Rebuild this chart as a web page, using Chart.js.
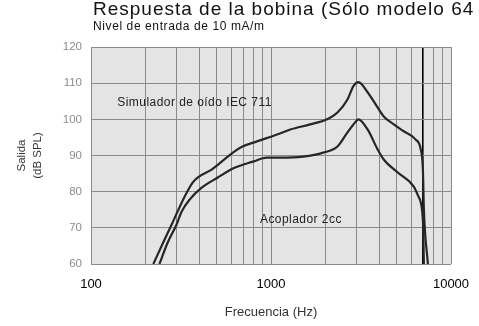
<!DOCTYPE html>
<html>
<head>
<meta charset="utf-8">
<script src="https://cdn.jsdelivr.net/npm/chart.js@4/dist/chart.umd.min.js"></script>
<style>
  html, body { margin: 0; padding: 0; background: #fff; }
  #wrap { width: 479px; height: 326px; position: relative; }
</style>
</head>
<body>
<div id="wrap"><canvas id="grafica"></canvas></div>
<script>
// curva superior: simulador de oido IEC 711
const simFreq = [222, 256, 280, 302, 331, 367, 391, 468, 614, 690, 836, 1080, 1280, 1650, 2050, 2340, 2660, 2870, 3060, 3440, 3910, 4230, 4810, 5460, 6370, 6790, 6980, 7070, 7440];
const simDb   = [60, 66.7, 70.8, 74.4, 78.6, 82.5, 83.9, 86.1, 90.8, 92.4, 93.9, 95.8, 97.2, 98.6, 100, 101.9, 105.5, 109.2, 110.3, 107.5, 103.3, 100.8, 98.6, 96.7, 94.4, 91.7, 86.1, 75, 60];
// curva inferior: acoplador 2cc
const acoFreq = [240, 266, 298, 318, 353, 412, 506, 614, 793, 950, 1120, 1510, 1950, 2340, 2660, 2940, 3060, 3440, 3910, 4230, 5060, 6210, 6600, 6980, 7070];
const acoDb   = [60, 65.8, 70.8, 74.4, 77.8, 81.1, 83.9, 86.4, 88.3, 89.4, 89.4, 89.7, 90.8, 92.5, 96.4, 99.2, 100, 97.2, 91.7, 88.9, 85.3, 81.4, 78.6, 72.2, 60];

const gridFreq = [100, 200, 300, 400, 500, 600, 700, 800, 900, 1000, 2000, 3000, 4000, 5000, 6000, 7000, 8000, 9000, 10000];
const xLabels = [100, 1000, 10000];
const yTicks = [60, 70, 80, 90, 100, 110, 120];

const titulo = 'Respuesta de la bobina (Sólo modelo 64';
const subtitulo = 'Nivel de entrada de 10 mA/m';
const etiquetas = [
  { text: 'Simulador de oído IEC 711', f: 140, db: 104.7 },
  { text: 'Acoplador 2cc', f: 868, db: 72.2 }
];

const FONT = '"Liberation Sans", Arial, sans-serif';

function puntos(fs, dbs) {
  return fs.map((f, i) => ({ x: f, y: dbs[i] }));
}

const fondo = {
  id: 'fondo',
  beforeDraw(chart) {
    const { ctx, chartArea: a } = chart;
    ctx.save();
    ctx.fillStyle = '#e4e4e4';
    ctx.fillRect(a.left, a.top, a.right - a.left, a.bottom - a.top);
    ctx.restore();
  }
};

const textos = {
  id: 'textos',
  afterDraw(chart) {
    const { ctx, chartArea: a, scales } = chart;
    ctx.save();
    ctx.fillStyle = '#111';
    ctx.textBaseline = 'alphabetic';
    ctx.textAlign = 'left';
    ctx.font = '19px ' + FONT;
    ctx.letterSpacing = '1px';
    ctx.fillText(titulo, a.left + 2, 15);
    ctx.font = '12px ' + FONT;
    ctx.letterSpacing = '0.6px';
    ctx.fillText(subtitulo, a.left + 2, 30);
    ctx.fillStyle = '#222';
    ctx.textBaseline = 'middle';
    ctx.letterSpacing = '0.45px';
    etiquetas.forEach(e => {
      ctx.fillText(e.text, scales.x.getPixelForValue(e.f), scales.y.getPixelForValue(e.db));
    });
    ctx.restore();
  }
};

new Chart(document.getElementById('grafica'), {
  type: 'line',
  data: {
    datasets: [
      {
        label: 'Simulador de oído IEC 711',
        data: puntos(simFreq, simDb),
        borderColor: '#262626',
        borderWidth: 2.2,
        pointRadius: 0,
        cubicInterpolationMode: 'monotone',
        fill: false
      },
      {
        label: 'Acoplador 2cc',
        data: puntos(acoFreq, acoDb),
        borderColor: '#262626',
        borderWidth: 2.2,
        pointRadius: 0,
        cubicInterpolationMode: 'monotone',
        fill: false
      }
    ]
  },
  options: {
    responsive: true,
    maintainAspectRatio: false,
    animation: false,
    layout: { padding: { left: 0, right: 28, top: 47, bottom: 0 } },
    plugins: {
      legend: { display: false },
      tooltip: { enabled: false }
    },
    scales: {
      x: {
        type: 'logarithmic',
        min: 100,
        max: 10000,
        afterBuildTicks: scale => {
          scale.ticks = gridFreq.map(v => ({ value: v }));
        },
        afterFit: scale => {
          scale.height = 62;
          scale.paddingLeft = 0;
          scale.paddingRight = 0;
        },
        grid: {
          drawTicks: false,
          color: ctx => (ctx.tick && ctx.tick.value === 7000 ? '#000' : '#8a8a8a'),
          lineWidth: ctx => (ctx.tick && ctx.tick.value === 7000 ? 1.6 : 1)
        },
        border: { display: false },
        ticks: {
          autoSkip: false,
          maxRotation: 0,
          padding: 13,
          color: '#000',
          font: { family: FONT, size: 13 },
          callback: v => (xLabels.includes(v) ? String(v) : '')
        },
        title: {
          display: true,
          text: 'Frecuencia (Hz)',
          color: '#333',
          font: { family: FONT, size: 13 },
          padding: { top: 0, bottom: 6 }
        }
      },
      y: {
        min: 60,
        max: 120,
        afterBuildTicks: scale => {
          scale.ticks = yTicks.map(v => ({ value: v }));
        },
        afterFit: scale => { scale.width = 91; },
        grid: { drawTicks: false, color: '#8a8a8a' },
        border: { display: false },
        ticks: {
          padding: 9,
          color: '#8c8c8c',
          font: { family: FONT, size: 11.5 }
        },
        title: {
          display: true,
          text: ['Salida', '(dB SPL)'],
          color: '#333',
          font: { family: FONT, size: 11.5, lineHeight: 1.45 },
          padding: { top: 13, bottom: 0 }
        }
      }
    }
  },
  plugins: [fondo, textos]
});
</script>
</body>
</html>
